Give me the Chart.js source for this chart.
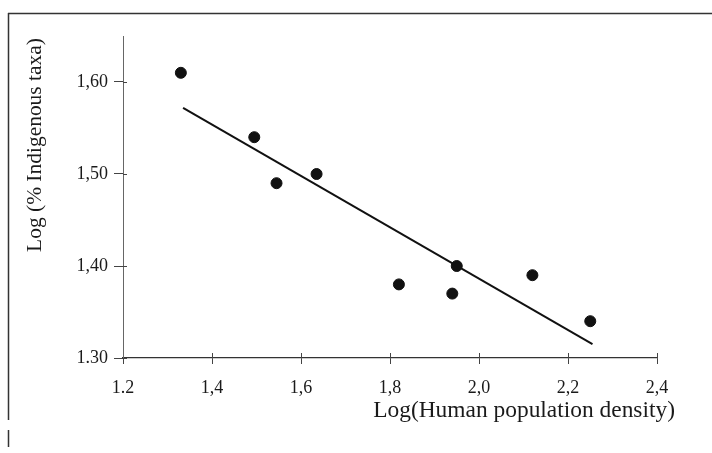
<!DOCTYPE html>
<html>
<head>
<meta charset="utf-8">
<script src="https://cdn.jsdelivr.net/npm/chart.js@4/dist/chart.umd.min.js"></script>
<style>
  html, body { margin: 0; padding: 0; background: #fff; }
  #wrap { width: 712px; height: 453px; position: relative; }
</style>
</head>
<body>
<div id="wrap"><canvas id="c" width="712" height="453"></canvas></div>
<script>
// ---- data ----
const densityX = [1.33, 1.495, 1.545, 1.635, 1.82, 1.94, 1.95, 2.12, 2.25];
const taxaY    = [1.61, 1.54, 1.49, 1.50, 1.38, 1.37, 1.40, 1.39, 1.34];
const fitX     = [1.335, 2.255];
const fitY     = [1.572, 1.315];
const xTickValues = [1.2, 1.4, 1.6, 1.8, 2.0, 2.2, 2.4];
const xTickLabels = ['1.2', '1,4', '1,6', '1,8', '2,0', '2,2', '2,4'];
const yTickValues = [1.30, 1.40, 1.50, 1.60];
const yTickLabels = ['1.30', '1,40', '1,50', '1,60'];
const xTitle = 'Log(Human population density)';
const yTitle = 'Log (% Indigenous taxa)';

const FONT = '"Liberation Serif", "Times New Roman", serif';
const INK = '#1a1a1a';

const points = densityX.map((x, i) => ({ x: x, y: taxaY[i] }));
const fitLine = fitX.map((x, i) => ({ x: x, y: fitY[i] }));

function fitFont(ctx, text, targetWidth, base) {
  ctx.font = base + 'px ' + FONT;
  const w = ctx.measureText(text).width;
  return base * targetWidth / w;
}

const decorPlugin = {
  id: 'decor',
  beforeDraw(chart) {
    const ctx = chart.ctx;
    ctx.save();
    ctx.strokeStyle = '#333';
    ctx.lineWidth = 1.5;
    ctx.beginPath();
    ctx.moveTo(8, 13.5); ctx.lineTo(712, 13.5);
    ctx.moveTo(8.5, 13); ctx.lineTo(8.5, 420);
    ctx.moveTo(8.5, 430); ctx.lineTo(8.5, 447);
    ctx.stroke();
    ctx.restore();
  },
  afterDraw(chart) {
    const ctx = chart.ctx;
    const xs = chart.scales.x, ys = chart.scales.y;
    ctx.save();
    // inner halves of tick marks (crossing the axes)
    ctx.strokeStyle = '#444';
    ctx.lineWidth = 1;
    ctx.beginPath();
    xTickValues.slice(1).forEach(v => {
      const px = Math.round(xs.getPixelForValue(v)) + 0.5;
      ctx.moveTo(px, ys.bottom); ctx.lineTo(px, ys.bottom - 5);
    });
    yTickValues.forEach(v => {
      const py = Math.round(ys.getPixelForValue(v)) + 0.5;
      ctx.moveTo(xs.left, py); ctx.lineTo(xs.left + 4, py);
    });
    ctx.stroke();
    // axis titles
    ctx.fillStyle = INK;
    const fx = fitFont(ctx, xTitle, 302, 20);
    ctx.font = fx + 'px ' + FONT;
    ctx.textAlign = 'right';
    ctx.textBaseline = 'middle';
    ctx.fillText(xTitle, 675, 411);
    const fy = fitFont(ctx, yTitle, 214, 20);
    ctx.font = fy + 'px ' + FONT;
    ctx.translate(35, 145);
    ctx.rotate(-Math.PI / 2);
    ctx.textAlign = 'center';
    ctx.textBaseline = 'middle';
    ctx.fillText(yTitle, 0, 0);
    ctx.restore();
  }
};

new Chart(document.getElementById('c'), {
  type: 'scatter',
  data: {
    datasets: [
      {
        label: 'Sites',
        data: points,
        backgroundColor: '#111',
        borderColor: '#111',
        pointRadius: 5.5,
        pointHoverRadius: 5.5,
        showLine: false
      },
      {
        label: 'Regression',
        data: fitLine,
        showLine: true,
        borderColor: '#111',
        borderWidth: 2,
        pointRadius: 0,
        fill: false
      }
    ]
  },
  options: {
    responsive: false,
    animation: false,
    layout: { padding: { left: 0, top: 36, right: 55, bottom: 0 } },
    plugins: {
      legend: { display: false },
      tooltip: { enabled: false }
    },
    scales: {
      x: {
        type: 'linear',
        min: 1.2,
        max: 2.4,
        afterBuildTicks(scale) { scale.ticks = xTickValues.map(v => ({ value: v })); },
        afterFit(scale) { scale.height = 95; },
        border: { display: true, color: '#333', width: 1.2 },
        grid: { drawOnChartArea: false, drawTicks: true, tickLength: 6, color: '#444' },
        ticks: {
          color: INK,
          padding: 13,
          maxRotation: 0,
          autoSkip: false,
          font: { family: FONT, size: 18 },
          callback: (v) => { const i = xTickValues.findIndex(t => Math.abs(t - v) < 1e-6); return i >= 0 ? xTickLabels[i] : ''; }
        }
      },
      y: {
        type: 'linear',
        min: 1.30,
        max: 1.65,
        afterBuildTicks(scale) { scale.ticks = yTickValues.map(v => ({ value: v })); },
        afterFit(scale) { scale.width = 123; },
        border: { display: true, color: '#666', width: 1 },
        grid: { drawOnChartArea: false, drawTicks: true, tickLength: 9, color: '#444' },
        ticks: {
          color: INK,
          padding: 6,
          autoSkip: false,
          font: { family: FONT, size: 18 },
          callback: (v) => { const i = yTickValues.findIndex(t => Math.abs(t - v) < 1e-6); return i >= 0 ? yTickLabels[i] : ''; }
        }
      }
    }
  },
  plugins: [decorPlugin]
});
</script>
</body>
</html>
